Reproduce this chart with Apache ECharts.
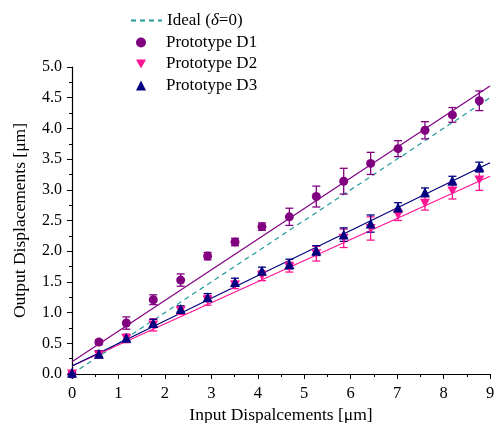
<!DOCTYPE html>
<html>
<head>
<meta charset="utf-8">
<title>Output vs Input Displacements</title>
<script src="https://cdn.jsdelivr.net/npm/echarts@6/dist/echarts.min.js"></script>
</head>
<body style="margin:0">
<div id="chart" style="width:494px;height:423px;"></div>
<script>
// measured points (input displacement, um)
var inputX = [0, 0.58, 1.17, 1.75, 2.34, 2.92, 3.51, 4.09, 4.68, 5.26, 5.85, 6.43, 7.02, 7.6, 8.19, 8.77];
var d1 = [0, 0.52, 0.83, 1.21, 1.53, 1.92, 2.15, 2.40, 2.56, 2.89, 3.14, 3.43, 3.67, 3.97, 4.22, 4.45];
var d1Err = [0, 0.04, 0.1, 0.08, 0.1, 0.06, 0.06, 0.06, 0.14, 0.17, 0.21, 0.18, 0.13, 0.14, 0.12, 0.16];
var d2 = [0, 0.31, 0.58, 0.80, 1.03, 1.20, 1.45, 1.60, 1.74, 1.96, 2.21, 2.37, 2.59, 2.78, 2.98, 3.16];
var d2Err = [0, 0.05, 0.07, 0.1, 0.06, 0.08, 0.06, 0.08, 0.08, 0.12, 0.15, 0.19, 0.09, 0.11, 0.13, 0.17];
var d3 = [0.02, 0.33, 0.59, 0.83, 1.06, 1.25, 1.50, 1.68, 1.79, 2.01, 2.27, 2.45, 2.71, 2.96, 3.15, 3.37];
var d3Err = [0, 0.05, 0.05, 0.06, 0.05, 0.06, 0.06, 0.06, 0.08, 0.08, 0.11, 0.14, 0.08, 0.07, 0.07, 0.08];

// straight lines (end points)
var idealLine = [[0, 0], [9, 4.5]];
var fitD1 = [[0, 0.2], [9, 4.69]];
var fitD2 = [[0, 0.13], [9, 3.22]];
var fitD3 = [[0, 0.13], [9, 3.44]];

var serif = '"Liberation Serif", "DejaVu Serif", serif';
var cPurple = '#800080', cPink = '#ff1493', cNavy = '#000080', cTeal = '#1f9a9a';
var downTriangle = 'path://M0,0L10,0L5,9Z';

function pts(ys) {
    return inputX.map(function (x, i) { return [x, ys[i]]; });
}
function errPts(ys, es) {
    return inputX.map(function (x, i) { return [x, ys[i], es[i]]; });
}

function errorBars(name, ys, es, color) {
    return {
        name: name,
        type: 'custom',
        data: errPts(ys, es),
        z: 3,
        silent: true,
        renderItem: function (params, api) {
            var x = api.value(0), y = api.value(1), e = api.value(2);
            if (!e) return null;
            var top = api.coord([x, y + e]);
            var bot = api.coord([x, y - e]);
            var cap = 4;
            var st = { stroke: color, lineWidth: 1.3 };
            return {
                type: 'group',
                children: [
                    { type: 'line', shape: { x1: top[0], y1: top[1], x2: bot[0], y2: bot[1] }, style: st },
                    { type: 'line', shape: { x1: top[0] - cap, y1: top[1], x2: top[0] + cap, y2: top[1] }, style: st },
                    { type: 'line', shape: { x1: bot[0] - cap, y1: bot[1], x2: bot[0] + cap, y2: bot[1] }, style: st }
                ]
            };
        }
    };
}

function fitLine(data, color) {
    return {
        type: 'line',
        data: data,
        symbol: 'none',
        silent: true,
        z: 2,
        lineStyle: { color: color, width: 1.2 }
    };
}

var legendText = {
    fontFamily: serif,
    fontSize: 17,
    color: '#000',
    rich: { i: { fontFamily: serif, fontSize: 17, fontStyle: 'italic', color: '#000' } }
};

var option = {
    animation: false,
    backgroundColor: '#fff',
    grid: { left: 72, right: 4, top: 67, bottom: 49, outerBoundsMode: 'none', containLabel: false },
    legend: [{
        // dashed line entry
        orient: 'vertical',
        left: 125,
        top: 7,
        itemWidth: 31,
        itemHeight: 10,
        data: [{ name: 'Ideal (δ=0)', itemStyle: { opacity: 0 } }],
        formatter: function () { return 'Ideal ({i|δ}=0)'; },
        textStyle: legendText
    }, {
        // marker entries
        orient: 'vertical',
        left: 131,
        top: 29,
        itemWidth: 10,
        itemHeight: 10,
        itemGap: 4.5,
        data: ['Prototype D1', 'Prototype D2', 'Prototype D3'],
        textStyle: Object.assign({ padding: [0, 0, 0, 15] }, legendText)
    }],
    xAxis: {
        type: 'value',
        min: 0,
        max: 9,
        interval: 1,
        name: 'Input Dispalcements [μm]',
        nameLocation: 'middle',
        nameGap: 29,
        nameTextStyle: { fontFamily: serif, fontSize: 17.5, color: '#000' },
        axisLine: { show: true, lineStyle: { color: '#000', width: 1.2 } },
        axisTick: { show: true, inside: false, length: 5, lineStyle: { color: '#000' } },
        minorTick: { show: true, splitNumber: 2, length: 3, lineStyle: { color: '#000' } },
        axisLabel: { fontFamily: serif, fontSize: 16.5, color: '#000', margin: 11 },
        splitLine: { show: false }
    },
    yAxis: {
        type: 'value',
        min: 0,
        max: 5,
        interval: 0.5,
        name: 'Output Displacements [μm]',
        nameLocation: 'middle',
        nameGap: 43,
        nameTextStyle: { fontFamily: serif, fontSize: 17.5, color: '#000' },
        axisLine: { show: true, lineStyle: { color: '#000', width: 1.2 } },
        axisTick: { show: true, inside: false, length: 5, lineStyle: { color: '#000' } },
        minorTick: { show: true, splitNumber: 2, length: 3, lineStyle: { color: '#000' } },
        axisLabel: {
            fontFamily: serif, fontSize: 16, color: '#000', margin: 10,
            formatter: function (v) { return v.toFixed(1); }
        },
        splitLine: { show: false }
    },
    series: [
        {
            name: 'Ideal (δ=0)',
            type: 'line',
            data: idealLine,
            symbol: 'none',
            z: 2,
            itemStyle: { color: 'rgba(0,0,0,0)' },
            lineStyle: { color: cTeal, width: 1.2, type: [5, 4] }
        },
        fitLine(fitD1, cPurple),
        fitLine(fitD2, cPink),
        fitLine(fitD3, cNavy),
        errorBars('D1 err', d1, d1Err, cPurple),
        errorBars('D2 err', d2, d2Err, cPink),
        errorBars('D3 err', d3, d3Err, cNavy),
        {
            name: 'Prototype D1',
            type: 'scatter',
            data: pts(d1),
            symbol: 'circle',
            symbolSize: 9,
            symbolKeepAspect: true,
            z: 4,
            itemStyle: { color: cPurple, opacity: 1 }
        },
        {
            name: 'Prototype D2',
            type: 'scatter',
            data: pts(d2),
            symbol: downTriangle,
            symbolSize: 10,
            symbolKeepAspect: true,
            z: 4,
            itemStyle: { color: cPink, opacity: 1 }
        },
        {
            name: 'Prototype D3',
            type: 'scatter',
            data: pts(d3),
            symbol: 'triangle',
            symbolSize: 10,
            symbolKeepAspect: true,
            z: 5,
            itemStyle: { color: cNavy, opacity: 1 }
        }
    ]
};

var chart = echarts.init(document.getElementById('chart'));
chart.setOption(option);
</script>
</body>
</html>
